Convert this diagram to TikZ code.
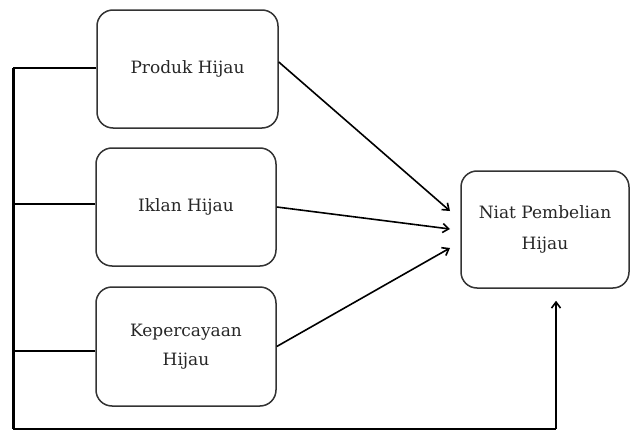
\documentclass[tikz,border=0pt]{standalone}
\usepackage{fontspec}
\setmainfont{DejaVu Serif}
\usetikzlibrary{arrows.meta,positioning}

\begin{document}
\begin{tikzpicture}[x=1pt,y=-1pt,
    varbox/.style={draw=black!80, line width=1.5pt, rounded corners=16pt,
      align=center, text=black!85, font=\fontsize{17}{29}\selectfont},
    link/.style={line width=1.5pt},
    arr/.style={line width=1.6pt, -{Straight Barb[length=6pt,width=9pt]}}]
  \useasboundingbox (0,0) rectangle (630,431);
  % variabel bebas
  \node[varbox, minimum width=181pt, minimum height=118pt] (produk) at (187.5,69) {Produk Hijau};
  \node[varbox, minimum width=180pt, minimum height=118pt] (iklan) at (186,207) {Iklan Hijau};
  \node[varbox, minimum width=180pt, minimum height=119pt] (percaya) at (186,346.5) {Kepercayaan\\Hijau};
  % variabel terikat
  \node[varbox, minimum width=168pt, minimum height=117pt, font=\fontsize{17}{31}\selectfont] (niat) at (545,229.5) {Niat Pembelian\\Hijau};
  \coordinate (t1) at (450,211);
  \coordinate (t2) at (450,229);
  \coordinate (t3) at (450,248);
  \draw[arr] ([yshift=7pt]produk.east) -- (t1);
  \draw[arr] (iklan.east) -- (t2);
  \draw[arr] (percaya.east) -- (t3);
  % garis kiri
  \coordinate (b1) at (13,68);
  \coordinate (b2) at (13,204);
  \coordinate (b3) at (13,351);
  \coordinate (b4) at (13,429);
  \coordinate (b5) at (556,429);
  \draw[link] ([yshift=1pt]produk.west) -- (b1);
  \draw[link] ([yshift=3pt]iklan.west) -- (b2);
  \draw[link] ([yshift=-4.5pt]percaya.west) -- (b3);
  \draw[line width=3pt] (b1) -- (b4);
  \draw[line width=2pt] (b4) -- (b5);
  \draw[arr] (b5) -- ([xshift=11pt,yshift=-12pt]niat.south);
\end{tikzpicture}
\end{document}
